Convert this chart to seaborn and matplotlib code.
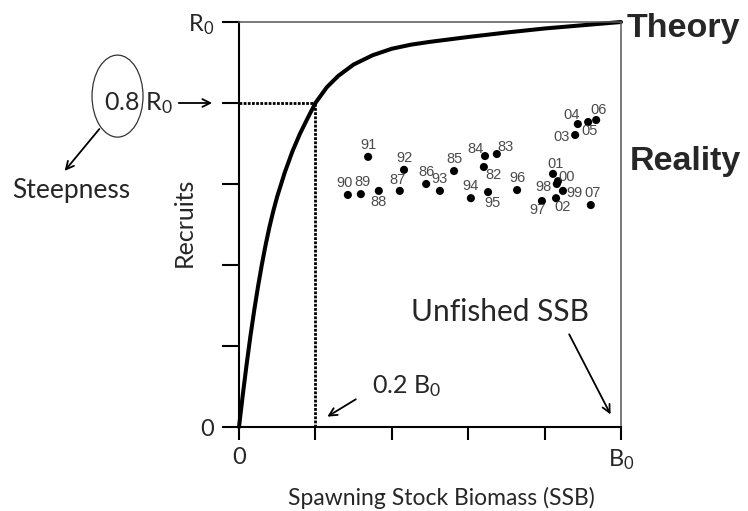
import matplotlib
matplotlib.use("Agg")
import matplotlib.pyplot as plt
from matplotlib.patches import Ellipse
import seaborn as sns
import pandas as pd

# ---- data (in units of B0 and R0) ----
ssb_curve = [0, 0.01, 0.02, 0.03, 0.04, 0.05, 0.06, 0.07, 0.08, 0.09, 0.10, 0.12, 0.14, 0.16,
             0.18, 0.20, 0.23, 0.26, 0.30, 0.35, 0.40, 0.45, 0.50, 0.60, 0.70, 0.80, 0.90, 1.0]
rec_curve = [0, 0.080, 0.155, 0.225, 0.289, 0.348, 0.402, 0.451, 0.495, 0.534, 0.569, 0.629,
             0.681, 0.725, 0.763, 0.800, 0.839, 0.867, 0.895, 0.918, 0.934, 0.944, 0.951,
             0.963, 0.974, 0.984, 0.992, 1.0]

years = ["90", "89", "88", "91", "87", "92", "86", "93", "85", "94", "84", "82", "83",
         "95", "96", "01", "00", "98", "99", "02", "97", "07", "03", "04", "05", "06"]
ssb_obs = [0.285, 0.319, 0.366, 0.338, 0.421, 0.432, 0.490, 0.526, 0.563, 0.607, 0.644, 0.641, 0.675,
           0.652, 0.728, 0.822, 0.835, 0.832, 0.848, 0.830, 0.793, 0.921, 0.880, 0.887, 0.914, 0.935]
rec_obs = [0.573, 0.575, 0.583, 0.667, 0.583, 0.635, 0.600, 0.583, 0.632, 0.565, 0.669, 0.642, 0.674,
           0.580, 0.585, 0.625, 0.607, 0.600, 0.583, 0.565, 0.558, 0.548, 0.721, 0.748, 0.753, 0.758]

steepness = 0.8
b_ref = 0.2
x_ticks = [0, 0.2, 0.4, 0.6, 0.8, 1.0]
x_ticklabels = ["0", "", "", "", "", "$\\mathregular{B_0}$"]
y_ticks = [0, 0.2, 0.4, 0.6, 0.8, 1.0]
y_ticklabels = ["0", "", "", "", "", "$\\mathregular{R_0}$"]

# label offsets for year labels (points); default is above the dot
label_offsets = {"90": (-2.5, 8.5), "89": (1.5, 8.5), "88": (0, -8), "87": (-1.5, 8),
                 "84": (-7, 5), "83": (6.5, 5), "82": (7, -6),
                 "95": (3, -8), "00": (6.5, 3), "98": (-9.5, -2), "99": (8.5, -1.5), "02": (5, -6.5),
                 "97": (-3, -6.5), "07": (1.5, 8.5), "03": (-9.5, -1.5), "04": (-4.5, 6.5),
                 "05": (1, -6.5), "06": (1.5, 7), "01": (2, 7)}

curve_df = pd.DataFrame({"SSB": ssb_curve, "Recruits": rec_curve})
obs_df = pd.DataFrame({"SSB": ssb_obs, "Recruits": rec_obs, "year": years})

sns.set_style("ticks")
plt.rcParams["font.family"] = ["Lato", "DejaVu Sans"]
plt.rcParams["mathtext.default"] = "regular"

fig = plt.figure(figsize=(7.48, 5.11), dpi=100)
ax = fig.add_axes([239 / 748, 1 - 427 / 511, 382 / 748, 405 / 511])

sns.lineplot(data=curve_df, x="SSB", y="Recruits", sort=False, estimator=None,
             color="black", linewidth=2.9, ax=ax, clip_on=False)
sns.scatterplot(data=obs_df, x="SSB", y="Recruits", color="black", s=34,
                edgecolor="none", ax=ax, zorder=3)

for yr, xv, yv in zip(years, ssb_obs, rec_obs):
    dx, dy = label_offsets.get(yr, (0, 8.5))
    ax.annotate(yr, (xv, yv), xytext=(dx, dy), textcoords="offset points",
                ha="center", va="center", fontsize=10.5, color="#4a4a4a",
                family=["Liberation Sans", "DejaVu Sans"])

# dotted reference lines
ax.plot([0, b_ref], [steepness, steepness], color="black", lw=2.0,
        linestyle=(0, (1, 0.5)), solid_capstyle="butt")
ax.plot([b_ref, b_ref], [0, steepness], color="black", lw=2.0,
        linestyle=(0, (1, 0.5)), solid_capstyle="butt", clip_on=False)

ax.set_xlim(0, 1)
ax.set_ylim(0, 1)
ax.set_xticks(x_ticks)
ax.set_xticklabels(x_ticklabels)
ax.set_yticks(y_ticks)
ax.set_yticklabels(y_ticklabels)
ax.tick_params(axis="x", bottom=True, direction="out", length=9.5, width=1.5, color="black",
               labelsize=17, pad=5)
ax.tick_params(axis="y", left=True, direction="out", length=12, width=1.5, color="black",
               labelsize=17, pad=6)

for side in ["left", "bottom"]:
    ax.spines[side].set_color("black")
    ax.spines[side].set_linewidth(1.5)
for side in ["top", "right"]:
    ax.spines[side].set_visible(True)
    ax.spines[side].set_color("#555555")
    ax.spines[side].set_linewidth(1.1)

ax.set_xlabel("Spawning Stock Biomass (SSB)", fontsize=16.5)
ax.xaxis.set_label_coords(0.531, -0.147)
ax.set_ylabel("Recruits", fontsize=18)
ax.yaxis.set_label_coords(-0.112, 0.506)

# annotations
ax.text(-0.264, 0.8, "0.8 $\\mathregular{R_0}$", fontsize=18, ha="center", va="center",
        clip_on=False)
ax.add_patch(Ellipse((-0.318, 0.817), 0.1335, 0.2025, fill=False, edgecolor="#333333",
                     lw=0.9, clip_on=False))
arrow = dict(arrowstyle="->", color="black", lw=1.3, mutation_scale=14)
ax.annotate("", xy=(-0.063, 0.8), xytext=(-0.165, 0.8), arrowprops=arrow,
            annotation_clip=False)
ax.annotate("", xy=(-0.461, 0.627), xytext=(-0.361, 0.741), arrowprops=arrow,
            annotation_clip=False)
ax.text(-0.44, 0.583, "Steepness", fontsize=19, ha="center", va="center", clip_on=False)

ax.text(0.44, 0.101, "0.2 $\\mathregular{B_0}$", fontsize=18, ha="center", va="center")
ax.annotate("", xy=(0.225, 0.022), xytext=(0.312, 0.072), arrowprops=arrow)

ax.text(0.683, 0.284, "Unfished SSB", fontsize=21.5, ha="center", va="center")
ax.annotate("", xy=(0.976, 0.025), xytext=(0.861, 0.235), arrowprops=arrow)

ax.text(1.016, 0.985, "Theory", fontsize=24.5, fontweight="bold", ha="left", va="center",
        family=["Liberation Sans", "DejaVu Sans"], clip_on=False)
ax.text(1.022, 0.655, "Reality", fontsize=24.5, fontweight="bold", ha="left", va="center",
        family=["Liberation Sans", "DejaVu Sans"], clip_on=False)

fig.savefig("out.png", dpi=100)
